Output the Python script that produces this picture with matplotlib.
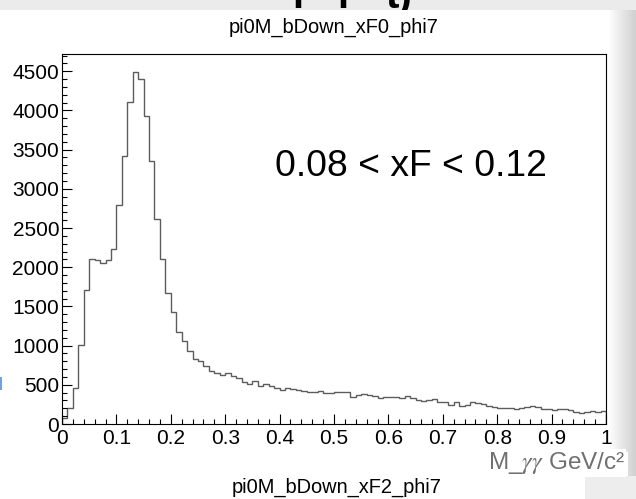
import numpy as np
import matplotlib
matplotlib.use("Agg")
import matplotlib.pyplot as plt
from matplotlib.ticker import FixedLocator, MultipleLocator

# ---------------- data ----------------
counts = [80, 200, 455, 1005, 1710, 2110, 2090, 2050, 2090, 2230,
          2800, 3415, 4105, 4495, 4395, 3925, 3355, 2620, 2110, 1670,
          1430, 1175, 1060, 935, 830, 800, 740, 680, 645, 630,
          650, 615, 590, 530, 515, 550, 490, 515, 485, 455,
          435, 465, 445, 440, 425, 412, 404, 420, 400, 392,
          412, 405, 412, 340, 365, 380, 370, 360, 327, 350,
          350, 345, 330, 357, 330, 306, 295, 305, 325, 285,
          285, 245, 285, 232, 240, 280, 265, 250, 225, 215,
          205, 208, 208, 190, 200, 212, 228, 215, 190, 185,
          178, 190, 185, 180, 148, 145, 155, 170, 158, 160]
x_min, x_max = 0.0, 1.0
x_ticks = [0, 0.1, 0.2, 0.3, 0.4, 0.5, 0.6, 0.7, 0.8, 0.9, 1.0]
x_tick_labels = ["0", "0.1", "0.2", "0.3", "0.4", "0.5", "0.6", "0.7", "0.8", "0.9", "1"]
y_ticks = [0, 500, 1000, 1500, 2000, 2500, 3000, 3500, 4000, 4500]
y_tick_labels = ["0", "500", "1000", "1500", "2000", "2500", "3000", "3500", "4000", "4500"]
title = "pi0M_bDown_xF0_phi7"
next_title = "pi0M_bDown_xF2_phi7"
annotation = "0.08 < xF < 0.12"
x_label = r"M_$\gamma\gamma$ GeV/c²"

# ---------------- figure ----------------
plt.rcParams['mathtext.fontset'] = 'stix'
FONT = ['Liberation Sans', 'DejaVu Sans']
W, H = 636, 499
fig = plt.figure(figsize=(W / 100, H / 100), dpi=100)

# background (screenshot surroundings)
bg = np.ones((H, W, 3))
bg[:10, :, :] = 0.925
gx = np.arange(608, W)
shade = 1.0 - (gx - 608) / (W - 608) * 0.19
bg[10:452, 608:, :] = shade[None, :, None]
bg[476:, 585:, :] = 0.93
bg[452:476, 628:, :] = shade[None, -8:, None]
bg[377:390, 0:2, :] = [0.45, 0.62, 0.9]
bg_ax = fig.add_axes([0, 0, 1, 1], zorder=-10)
bg_ax.imshow(bg, extent=[0, W, H, 0], aspect='auto', interpolation='nearest')
bg_ax.set_xlim(0, W)
bg_ax.set_ylim(H, 0)
bg_ax.axis('off')

# clipped bold text in the top strip
top_ax = fig.add_axes([0, 1 - 10 / H, 1, 10 / H], zorder=-5)
top_ax.set_xlim(0, W)
top_ax.set_ylim(10, 0)
top_ax.axis('off')
for ch, xp in [("l", 292), ("l", 337), ("t)", 385)]:
    top_ax.text(xp, 8.5, ch, fontsize=29, fontweight='bold', family=FONT,
                ha='left', va='baseline', color='black', clip_on=True)

# main axes
L, R, T, B = 62, 606, 54, 424
ax = fig.add_axes([L / W, 1 - B / H, (R - L) / W, (B - T) / H])
edges = np.linspace(x_min, x_max, len(counts) + 1)
ax.stairs(counts, edges, baseline=0, color='#5c5c5c', lw=1.0)
ax.set_xlim(x_min, x_max)
ax.set_ylim(0, 4720)
ax.xaxis.set_major_locator(FixedLocator(x_ticks))
ax.set_xticklabels(x_tick_labels)
ax.yaxis.set_major_locator(FixedLocator(y_ticks))
ax.set_yticklabels(y_tick_labels)
ax.xaxis.set_minor_locator(MultipleLocator(0.02))
ax.yaxis.set_minor_locator(MultipleLocator(100))
ax.tick_params(which='both', direction='in', top=False, right=False, color='black')
ax.tick_params(which='major', length=7.2, width=0.8, labelsize=15)
ax.tick_params(which='minor', length=3.6, width=0.8)
ax.tick_params(axis='x', pad=3.5)
ax.tick_params(axis='y', pad=2)
for lab in ax.get_xticklabels() + ax.get_yticklabels():
    lab.set_family(FONT)
for s in ax.spines.values():
    s.set_linewidth(0.8)
    s.set_color('black')

fig.text(334 / W, 1 - 27 / H, title, ha='center', va='center',
         fontsize=14.4, family=FONT)
fig.text(275 / W, 1 - 166 / H, annotation, ha='left', va='center',
         fontsize=26.8, family=FONT)
fig.text(625 / W, 1 - 463 / H, x_label, ha='right', va='center',
         fontsize=17.5, family=FONT, color='#707070',
         bbox=dict(facecolor='white', edgecolor='none', pad=1))
fig.text(337 / W, 1 - 487 / H, next_title, ha='center', va='center',
         fontsize=14.4, family=FONT)

fig.savefig("out.png", dpi=100)
